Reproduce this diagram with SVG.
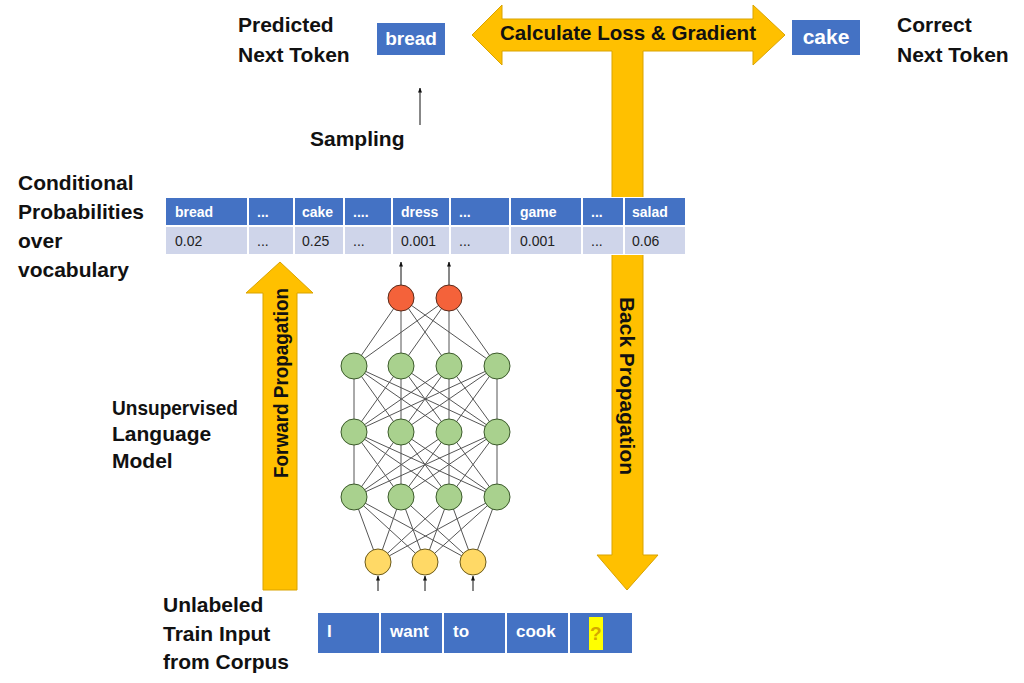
<svg xmlns="http://www.w3.org/2000/svg" width="1024" height="683" viewBox="0 0 1024 683">
<style>
.lbl{font-family:"Liberation Sans",Arial,sans-serif;font-weight:bold;font-size:21px;fill:#111}
.hd{font-family:"Liberation Sans",Arial,sans-serif;font-weight:bold;font-size:14px;fill:#fff}
.val{font-family:"Liberation Sans",Arial,sans-serif;font-size:14px;fill:#222}
.tok{font-family:"Liberation Sans",Arial,sans-serif;font-weight:bold;font-size:17px;fill:#fff}
.blue{fill:#4472C4}
.lite{fill:#CFD5EA}
.arr{fill:#FFC000;stroke:#D9A300;stroke-width:1}
.net{stroke:#555;stroke-width:1;fill:none}
.red{fill:#F4623A;stroke:#5a2a1a;stroke-width:1}
.grn{fill:#A9D18E;stroke:#3b5a2a;stroke-width:1}
.yel{fill:#FFD966;stroke:#6b5a1a;stroke-width:1}
.thin{stroke:#111;stroke-width:1;fill:none}
</style>
<defs>
<marker id="ah" viewBox="0 0 10 10" refX="9" refY="5" markerWidth="5" markerHeight="5" orient="auto">
<path d="M0 1L10 5L0 9z" fill="#111"/>
</marker>
</defs>
<rect x="0" y="0" width="1024" height="683" fill="#fff"/>

<g id="connectors">
<polygon class="arr" points="472,35 502,5 502,19 753,19 753,5 785,35 753,65 753,51 643,51 643,555 658,555 627,590 597,555 612,555 612,51 502,51 502,65"/>
<polygon class="arr" points="280,262 313,293 297,293 297,590 263,590 263,293 246,293"/>
<line class="thin" x1="420" y1="125" x2="420" y2="88" marker-end="url(#ah)"/>
<path class="net" d="M401 298L354 366M401 298L401 366M401 298L449 366M401 298L497 366M449 298L354 366M449 298L401 366M449 298L449 366M449 298L497 366
M354 366L354 432M354 366L401 432M354 366L449 432M354 366L497 432M401 366L354 432M401 366L401 432M401 366L449 432M401 366L497 432M449 366L354 432M449 366L401 432M449 366L449 432M449 366L497 432M497 366L354 432M497 366L401 432M497 366L449 432M497 366L497 432
M354 432L354 497M354 432L401 497M354 432L449 497M354 432L497 497M401 432L354 497M401 432L401 497M401 432L449 497M401 432L497 497M449 432L354 497M449 432L401 497M449 432L449 497M449 432L497 497M497 432L354 497M497 432L401 497M497 432L449 497M497 432L497 497
M354 497L378 562M354 497L425 562M354 497L473 562M401 497L378 562M401 497L425 562M401 497L473 562M449 497L378 562M449 497L425 562M449 497L473 562M497 497L378 562M497 497L425 562M497 497L473 562"/>
<line class="thin" x1="401" y1="285" x2="401" y2="262" marker-end="url(#ah)"/>
<line class="thin" x1="449" y1="285" x2="449" y2="262" marker-end="url(#ah)"/>
<line class="thin" x1="378" y1="591" x2="378" y2="576" marker-end="url(#ah)"/>
<line class="thin" x1="425" y1="591" x2="425" y2="576" marker-end="url(#ah)"/>
<line class="thin" x1="473" y1="591" x2="473" y2="576" marker-end="url(#ah)"/>
</g>

<g id="loss-label">
<text class="lbl" x="628" y="40" text-anchor="middle" textLength="256" lengthAdjust="spacingAndGlyphs">Calculate Loss &amp; Gradient</text>
</g>
<g id="forward-label">
<text class="lbl" transform="translate(288,383) rotate(-90)" text-anchor="middle" textLength="190" lengthAdjust="spacingAndGlyphs">Forward Propagation</text>
</g>
<g id="back-label">
<text class="lbl" transform="translate(620,386) rotate(90)" text-anchor="middle" textLength="178" lengthAdjust="spacingAndGlyphs">Back Propagation</text>
</g>

<g id="predicted">
<rect class="blue" x="377" y="23" width="68" height="32"/>
<text class="tok" x="411" y="45" text-anchor="middle" style="font-size:19px">bread</text>
<text class="lbl" x="238" y="32">Predicted</text>
<text class="lbl" x="238" y="62">Next Token</text>
</g>

<g id="correct">
<rect class="blue" x="792" y="20" width="68" height="35"/>
<text class="tok" x="826" y="44" text-anchor="middle" style="font-size:21px">cake</text>
<text class="lbl" x="897" y="32">Correct</text>
<text class="lbl" x="897" y="62">Next Token</text>
</g>

<g id="sampling">
<text class="lbl" x="310" y="146">Sampling</text>
</g>

<g id="prob-table">
<rect x="165" y="197" width="521" height="58" fill="#fff"/>
<rect class="blue" x="166" y="198" width="81" height="27"/>
<rect class="blue" x="249" y="198" width="44" height="27"/>
<rect class="blue" x="295" y="198" width="48" height="27"/>
<rect class="blue" x="345" y="198" width="46" height="27"/>
<rect class="blue" x="393" y="198" width="56" height="27"/>
<rect class="blue" x="451" y="198" width="58" height="27"/>
<rect class="blue" x="511" y="198" width="70" height="27"/>
<rect class="blue" x="583" y="198" width="40" height="27"/>
<rect class="blue" x="625" y="198" width="60" height="27"/>
<rect class="lite" x="166" y="227" width="81" height="27"/>
<rect class="lite" x="249" y="227" width="44" height="27"/>
<rect class="lite" x="295" y="227" width="48" height="27"/>
<rect class="lite" x="345" y="227" width="46" height="27"/>
<rect class="lite" x="393" y="227" width="56" height="27"/>
<rect class="lite" x="451" y="227" width="58" height="27"/>
<rect class="lite" x="511" y="227" width="70" height="27"/>
<rect class="lite" x="583" y="227" width="40" height="27"/>
<rect class="lite" x="625" y="227" width="60" height="27"/>
<text class="hd" x="175" y="217">bread</text>
<text class="hd" x="257" y="217">...</text>
<text class="hd" x="302" y="217">cake</text>
<text class="hd" x="353" y="217">....</text>
<text class="hd" x="401" y="217">dress</text>
<text class="hd" x="459" y="217">...</text>
<text class="hd" x="520" y="217">game</text>
<text class="hd" x="591" y="217">...</text>
<text class="hd" x="632" y="217">salad</text>
<text class="val" x="175" y="246">0.02</text>
<text class="val" x="257" y="246">...</text>
<text class="val" x="302" y="246">0.25</text>
<text class="val" x="353" y="246">...</text>
<text class="val" x="401" y="246">0.001</text>
<text class="val" x="459" y="246">...</text>
<text class="val" x="520" y="246">0.001</text>
<text class="val" x="591" y="246">...</text>
<text class="val" x="632" y="246">0.06</text>
</g>

<g id="cond-label">
<text class="lbl" x="18" y="190">Conditional</text>
<text class="lbl" x="18" y="219">Probabilities</text>
<text class="lbl" x="18" y="248">over</text>
<text class="lbl" x="18" y="277">vocabulary</text>
</g>

<g id="lm-label">
<text class="lbl" x="112" y="415" textLength="126" lengthAdjust="spacingAndGlyphs">Unsupervised</text>
<text class="lbl" x="112" y="441">Language</text>
<text class="lbl" x="112" y="468">Model</text>
</g>

<g id="input-label">
<text class="lbl" x="163" y="612">Unlabeled</text>
<text class="lbl" x="163" y="641">Train Input</text>
<text class="lbl" x="163" y="669">from Corpus</text>
</g>

<g id="network">
<circle class="red" cx="401" cy="298" r="13"/>
<circle class="red" cx="449" cy="298" r="13"/>
<circle class="grn" cx="354" cy="366" r="13"/>
<circle class="grn" cx="401" cy="366" r="13"/>
<circle class="grn" cx="449" cy="366" r="13"/>
<circle class="grn" cx="497" cy="366" r="13"/>
<circle class="grn" cx="354" cy="432" r="13"/>
<circle class="grn" cx="401" cy="432" r="13"/>
<circle class="grn" cx="449" cy="432" r="13"/>
<circle class="grn" cx="497" cy="432" r="13"/>
<circle class="grn" cx="354" cy="497" r="13"/>
<circle class="grn" cx="401" cy="497" r="13"/>
<circle class="grn" cx="449" cy="497" r="13"/>
<circle class="grn" cx="497" cy="497" r="13"/>
<circle class="yel" cx="378" cy="562" r="13"/>
<circle class="yel" cx="425" cy="562" r="13"/>
<circle class="yel" cx="473" cy="562" r="13"/>
</g>

<g id="input-tokens">
<rect class="blue" x="318" y="613" width="61" height="40"/>
<rect class="blue" x="381" y="613" width="61" height="40"/>
<rect class="blue" x="444" y="613" width="61" height="40"/>
<rect class="blue" x="507" y="613" width="61" height="40"/>
<rect class="blue" x="570" y="613" width="62" height="40"/>
<text class="tok" x="327" y="637">I</text>
<text class="tok" x="390" y="637">want</text>
<text class="tok" x="453" y="637">to</text>
<text class="tok" x="516" y="637">cook</text>
<rect x="589" y="617" width="14" height="33" fill="#FFFF00"/>
<text class="tok" x="590" y="640" style="fill:#D4A800;font-size:19px">?</text>
</g>
</svg>
